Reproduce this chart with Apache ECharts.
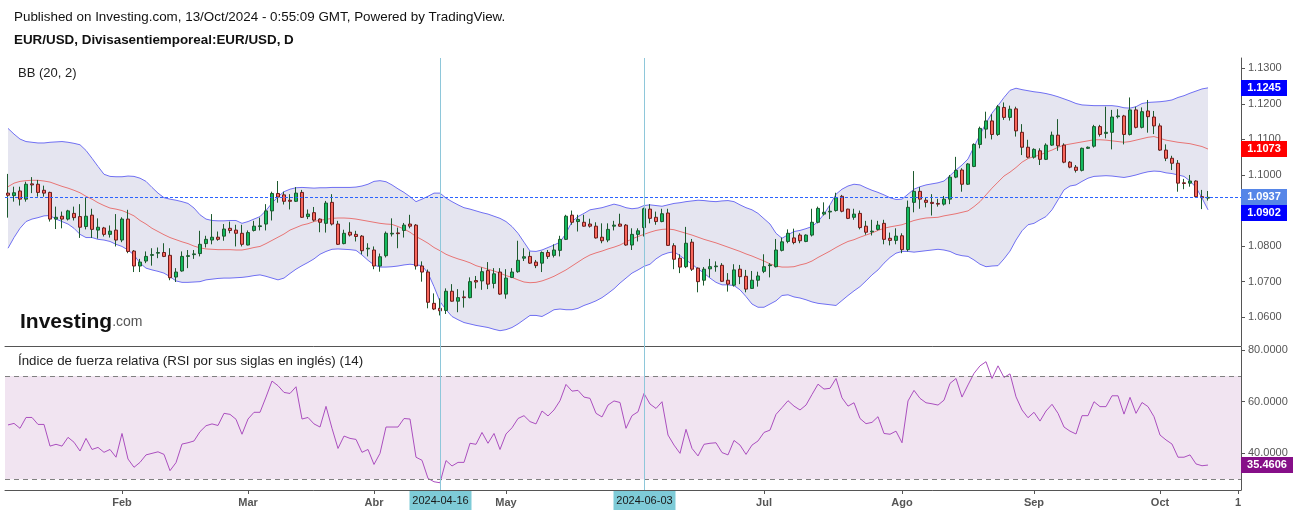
<!DOCTYPE html>
<html><head><meta charset="utf-8">
<script src="https://cdn.jsdelivr.net/npm/echarts@6/dist/echarts.min.js"></script>
<style>html,body{margin:0;padding:0;background:#fff}#c{width:1299px;height:515px}</style>
</head><body><div id="c"></div>
<script>
const dates = [
'2024-01-05','2024-01-08','2024-01-09','2024-01-10','2024-01-11','2024-01-12','2024-01-15','2024-01-16','2024-01-17','2024-01-18',
'2024-01-19','2024-01-22','2024-01-23','2024-01-24','2024-01-25','2024-01-26','2024-01-29','2024-01-30','2024-01-31','2024-02-01',
'2024-02-02','2024-02-05','2024-02-06','2024-02-07','2024-02-08','2024-02-09','2024-02-12','2024-02-13','2024-02-14','2024-02-15',
'2024-02-16','2024-02-19','2024-02-20','2024-02-21','2024-02-22','2024-02-23','2024-02-26','2024-02-27','2024-02-28','2024-02-29',
'2024-03-01','2024-03-04','2024-03-05','2024-03-06','2024-03-07','2024-03-08','2024-03-11','2024-03-12','2024-03-13','2024-03-14',
'2024-03-15','2024-03-18','2024-03-19','2024-03-20','2024-03-21','2024-03-22','2024-03-25','2024-03-26','2024-03-27','2024-03-28',
'2024-03-29','2024-04-01','2024-04-02','2024-04-03','2024-04-04','2024-04-05','2024-04-08','2024-04-09','2024-04-10','2024-04-11',
'2024-04-12','2024-04-15','2024-04-16','2024-04-17','2024-04-18','2024-04-19','2024-04-22','2024-04-23','2024-04-24','2024-04-25',
'2024-04-26','2024-04-29','2024-04-30','2024-05-01','2024-05-02','2024-05-03','2024-05-06','2024-05-07','2024-05-08','2024-05-09',
'2024-05-10','2024-05-13','2024-05-14','2024-05-15','2024-05-16','2024-05-17','2024-05-20','2024-05-21','2024-05-22','2024-05-23',
'2024-05-24','2024-05-27','2024-05-28','2024-05-29','2024-05-30','2024-05-31','2024-06-03','2024-06-04','2024-06-05','2024-06-06',
'2024-06-07','2024-06-10','2024-06-11','2024-06-12','2024-06-13','2024-06-14','2024-06-17','2024-06-18','2024-06-19','2024-06-20',
'2024-06-21','2024-06-24','2024-06-25','2024-06-26','2024-06-27','2024-06-28','2024-07-01','2024-07-02','2024-07-03','2024-07-04',
'2024-07-05','2024-07-08','2024-07-09','2024-07-10','2024-07-11','2024-07-12','2024-07-15','2024-07-16','2024-07-17','2024-07-18',
'2024-07-19','2024-07-22','2024-07-23','2024-07-24','2024-07-25','2024-07-26','2024-07-29','2024-07-30','2024-07-31','2024-08-01',
'2024-08-02','2024-08-05','2024-08-06','2024-08-07','2024-08-08','2024-08-09','2024-08-12','2024-08-13','2024-08-14','2024-08-15',
'2024-08-16','2024-08-19','2024-08-20','2024-08-21','2024-08-22','2024-08-23','2024-08-26','2024-08-27','2024-08-28','2024-08-29',
'2024-08-30','2024-09-02','2024-09-03','2024-09-04','2024-09-05','2024-09-06','2024-09-09','2024-09-10','2024-09-11','2024-09-12',
'2024-09-13','2024-09-16','2024-09-17','2024-09-18','2024-09-19','2024-09-20','2024-09-23','2024-09-24','2024-09-25','2024-09-26',
'2024-09-27','2024-09-30','2024-10-01','2024-10-02','2024-10-03','2024-10-04','2024-10-07','2024-10-08','2024-10-09','2024-10-10',
'2024-10-11'];
const futureDates = ['2024-10-14','2024-10-15','2024-10-16','2024-10-17','2024-10-18'];

const opens = [
1.0949,1.0942,1.0955,1.0932,1.0975,1.0974,1.0957,1.0951,1.0876,1.0884,
1.0876,1.0892,1.0883,1.0855,1.0887,1.0845,1.0851,1.0833,1.0845,1.0817,
1.0876,1.0786,1.0744,1.0758,1.0774,1.0780,1.0782,1.0774,1.0713,1.0730,
1.0771,1.0776,1.0779,1.0807,1.0817,1.0825,1.0828,1.0850,1.0845,1.0836,
1.0803,1.0844,1.0855,1.0862,1.0899,1.0948,1.0944,1.0929,1.0926,1.0951,
1.0883,1.0894,1.0876,1.0864,1.0923,1.0862,1.0807,1.0839,1.0833,1.0828,
1.0792,1.0789,1.0744,1.0773,1.0834,1.0837,1.0844,1.0862,1.0859,1.0744,
1.0727,1.0639,1.0625,1.0619,1.0673,1.0645,1.0657,1.0655,1.0703,1.0702,
1.0731,1.0695,1.0727,1.0665,1.0712,1.0728,1.0766,1.0771,1.0755,1.0752,
1.0782,1.0774,1.0788,1.0819,1.0887,1.0869,1.0867,1.0862,1.0856,1.0825,
1.0817,1.0856,1.0862,1.0859,1.0803,1.0833,1.0852,1.0904,1.0881,1.0869,
1.0893,1.0801,1.0766,1.0742,1.0811,1.0738,1.0704,1.0736,1.0742,1.0746,
1.0704,1.0690,1.0735,1.0715,1.0681,1.0704,1.0729,1.0745,1.0742,1.0788,
1.0813,1.0823,1.0831,1.0813,1.0831,1.0867,1.0890,1.0896,1.0900,1.0940,
1.0904,1.0881,1.0892,1.0856,1.0840,1.0847,1.0864,1.0822,1.0816,1.0829,
1.0790,1.0923,1.0954,1.0929,1.0923,1.0920,1.0918,1.0932,1.0994,1.1014,
1.0974,1.1024,1.1086,1.1129,1.1152,1.1114,1.1190,1.1162,1.1186,1.1120,
1.1078,1.1050,1.1068,1.1044,1.1084,1.1112,1.1084,1.1036,1.1022,1.1013,
1.1075,1.1081,1.1136,1.1117,1.1120,1.1164,1.1166,1.1114,1.1183,1.1134,
1.1180,1.1163,1.1138,1.1070,1.1047,1.1033,1.0978,1.0977,1.0983,1.0939,
1.0935];
const highs = [
1.1003,1.0967,1.0967,1.0981,1.0994,1.0986,1.0970,1.0953,1.0911,1.0897,
1.0902,1.0911,1.0918,1.0936,1.0905,1.0878,1.0854,1.0858,1.0890,1.0881,
1.0902,1.0789,1.0764,1.0785,1.0794,1.0796,1.0808,1.0794,1.0738,1.0785,
1.0789,1.0789,1.0843,1.0829,1.0890,1.0841,1.0862,1.0869,1.0860,1.0860,
1.0844,1.0871,1.0880,1.0918,1.0953,1.0983,1.0953,1.0946,1.0966,1.0958,
1.0903,1.0910,1.0878,1.0927,1.0946,1.0871,1.0846,1.0867,1.0843,1.0831,
1.0808,1.0799,1.0779,1.0841,1.0878,1.0852,1.0865,1.0888,1.0862,1.0757,
1.0734,1.0667,1.0653,1.0681,1.0693,1.0679,1.0675,1.0712,1.0716,1.0740,
1.0755,1.0738,1.0738,1.0735,1.0738,1.0815,1.0794,1.0785,1.0761,1.0785,
1.0789,1.0805,1.0829,1.0888,1.0900,1.0888,1.0888,1.0877,1.0867,1.0864,
1.0864,1.0871,1.0891,1.0862,1.0850,1.0850,1.0908,1.0918,1.0897,1.0905,
1.0905,1.0808,1.0777,1.0854,1.0820,1.0740,1.0741,1.0764,1.0757,1.0752,
1.0724,1.0749,1.0747,1.0733,1.0730,1.0728,1.0777,1.0752,1.0820,1.0824,
1.0847,1.0849,1.0836,1.0833,1.0905,1.0911,1.0923,1.0914,1.0950,1.0944,
1.0905,1.0905,1.0900,1.0871,1.0874,1.0871,1.0874,1.0838,1.0850,1.0836,
1.0928,1.1011,1.0966,1.0936,1.0946,1.0933,1.0941,1.1000,1.1051,1.1019,
1.1033,1.1089,1.1136,1.1178,1.1171,1.1197,1.1204,1.1195,1.1192,1.1143,
1.1099,1.1075,1.1075,1.1089,1.1122,1.1157,1.1089,1.1039,1.1028,1.1077,
1.1080,1.1141,1.1141,1.1192,1.1183,1.1185,1.1169,1.1218,1.1192,1.1190,
1.1211,1.1180,1.1145,1.1086,1.1054,1.1042,1.0989,1.1000,1.0985,1.0958,
1.0955];
const lows = [
1.0880,1.0925,1.0914,1.0925,1.0949,1.0939,1.0939,1.0869,1.0848,1.0850,
1.0872,1.0872,1.0823,1.0847,1.0823,1.0821,1.0827,1.0824,1.0799,1.0811,
1.0780,1.0727,1.0727,1.0752,1.0745,1.0766,1.0769,1.0704,1.0699,1.0728,
1.0738,1.0764,1.0771,1.0796,1.0805,1.0815,1.0815,1.0836,1.0799,1.0799,
1.0802,1.0841,1.0844,1.0844,1.0872,1.0922,1.0917,1.0903,1.0924,1.0879,
1.0876,1.0869,1.0839,1.0838,1.0858,1.0803,1.0805,1.0827,1.0813,1.0777,
1.0771,1.0735,1.0728,1.0768,1.0827,1.0794,1.0824,1.0850,1.0734,1.0700,
1.0625,1.0620,1.0605,1.0609,1.0644,1.0614,1.0627,1.0653,1.0681,1.0677,
1.0679,1.0681,1.0663,1.0652,1.0710,1.0725,1.0758,1.0750,1.0738,1.0727,
1.0764,1.0768,1.0771,1.0817,1.0860,1.0841,1.0855,1.0852,1.0821,1.0808,
1.0811,1.0844,1.0855,1.0801,1.0789,1.0813,1.0827,1.0864,1.0860,1.0867,
1.0801,1.0735,1.0724,1.0738,1.0730,1.0670,1.0689,1.0712,1.0728,1.0700,
1.0672,1.0686,1.0693,1.0670,1.0680,1.0686,1.0724,1.0712,1.0740,1.0785,
1.0808,1.0805,1.0808,1.0811,1.0827,1.0864,1.0886,1.0876,1.0897,1.0895,
1.0876,1.0874,1.0847,1.0832,1.0830,1.0844,1.0805,1.0802,1.0805,1.0780,
1.0785,1.0895,1.0905,1.0909,1.0886,1.0911,1.0914,1.0918,1.0991,1.0953,
1.0972,1.1022,1.1075,1.1103,1.1100,1.1110,1.1155,1.1153,1.1108,1.1056,
1.1047,1.1046,1.1028,1.1042,1.1082,1.1068,1.1033,1.1019,1.1007,1.1010,
1.1073,1.1077,1.1108,1.1103,1.1072,1.1159,1.1086,1.1111,1.1131,1.1131,
1.1119,1.1115,1.1068,1.1039,1.1014,1.0953,1.0960,1.0967,1.0937,1.0904,
1.0928];
const closes = [
1.0943,1.0950,1.0932,1.0974,1.0972,1.0951,1.0949,1.0876,1.0881,1.0876,
1.0899,1.0880,1.0853,1.0884,1.0847,1.0853,1.0833,1.0842,1.0817,1.0876,
1.0785,1.0744,1.0755,1.0771,1.0776,1.0782,1.0771,1.0711,1.0727,1.0771,
1.0773,1.0778,1.0805,1.0819,1.0825,1.0819,1.0848,1.0844,1.0836,1.0805,
1.0838,1.0856,1.0857,1.0899,1.0948,1.0938,1.0926,1.0926,1.0949,1.0881,
1.0890,1.0873,1.0867,1.0921,1.0862,1.0805,1.0836,1.0831,1.0827,1.0787,
1.0794,1.0744,1.0770,1.0836,1.0836,1.0835,1.0859,1.0856,1.0744,1.0727,
1.0642,1.0623,1.0618,1.0673,1.0645,1.0655,1.0655,1.0700,1.0699,1.0728,
1.0693,1.0722,1.0665,1.0710,1.0727,1.0760,1.0770,1.0752,1.0745,1.0782,
1.0771,1.0789,1.0819,1.0884,1.0867,1.0875,1.0856,1.0856,1.0823,1.0815,
1.0847,1.0859,1.0856,1.0803,1.0833,1.0843,1.0905,1.0878,1.0869,1.0891,
1.0802,1.0763,1.0741,1.0808,1.0735,1.0700,1.0735,1.0742,1.0744,1.0701,
1.0693,1.0733,1.0714,1.0679,1.0704,1.0716,1.0742,1.0747,1.0789,1.0812,
1.0836,1.0810,1.0815,1.0831,1.0867,1.0906,1.0895,1.0898,1.0936,1.0898,
1.0878,1.0890,1.0852,1.0839,1.0842,1.0859,1.0819,1.0816,1.0828,1.0790,
1.0909,1.0954,1.0932,1.0923,1.0920,1.0918,1.0932,1.0994,1.1013,1.0974,
1.1031,1.1086,1.1131,1.1152,1.1114,1.1192,1.1162,1.1185,1.1124,1.1078,
1.1050,1.1072,1.1044,1.1084,1.1112,1.1082,1.1036,1.1022,1.1013,1.1075,
1.1078,1.1136,1.1114,1.1120,1.1163,1.1166,1.1114,1.1183,1.1134,1.1178,
1.1164,1.1138,1.1070,1.1047,1.1033,1.0977,1.0976,1.0983,1.0939,1.0936,
1.0937];

const bbUpper = [
1.1131,1.1115,1.1101,1.1094,1.1092,1.1090,1.1090,1.1092,1.1093,1.1094,
1.1092,1.1089,1.1085,1.1069,1.1047,1.1024,1.1002,1.0996,1.0995,1.0995,
1.0997,1.0996,1.0991,1.0982,1.0965,1.0949,1.0936,1.0932,1.0929,1.0925,
1.0920,1.0907,1.0888,1.0876,1.0872,1.0871,1.0871,1.0872,1.0872,1.0864,
1.0869,1.0876,1.0883,1.0900,1.0921,1.0939,1.0953,1.0960,1.0964,1.0965,
1.0964,1.0963,1.0964,1.0964,1.0965,1.0965,1.0965,1.0965,1.0966,1.0969,
1.0974,1.0982,1.0984,1.0981,1.0972,1.0961,1.0951,1.0939,1.0925,1.0932,
1.0940,1.0949,1.0949,1.0935,1.0925,1.0916,1.0908,1.0904,1.0899,1.0894,
1.0890,1.0884,1.0878,1.0869,1.0855,1.0836,1.0811,1.0786,1.0785,1.0789,
1.0796,1.0803,1.0811,1.0836,1.0869,1.0883,1.0892,1.0902,1.0905,1.0908,
1.0913,1.0918,1.0914,1.0908,1.0905,1.0907,1.0914,1.0916,1.0914,1.0912,
1.0916,1.0920,1.0922,1.0925,1.0927,1.0929,1.0928,1.0926,1.0925,1.0927,
1.0928,1.0925,1.0916,1.0908,1.0902,1.0892,1.0877,1.0862,1.0836,1.0822,
1.0832,1.0841,1.0844,1.0849,1.0855,1.0869,1.0890,1.0916,1.0946,1.0960,
1.0969,1.0974,1.0972,1.0964,1.0957,1.0951,1.0944,1.0936,1.0931,1.0932,
1.0946,1.0960,1.0967,1.0972,1.0975,1.0978,1.0983,1.0998,1.1014,1.1028,
1.1045,1.1079,1.1113,1.1146,1.1174,1.1195,1.1218,1.1238,1.1244,1.1240,
1.1237,1.1234,1.1232,1.1229,1.1225,1.1220,1.1214,1.1208,1.1201,1.1197,
1.1196,1.1195,1.1195,1.1195,1.1195,1.1193,1.1189,1.1188,1.1192,1.1201,
1.1204,1.1205,1.1206,1.1208,1.1211,1.1218,1.1223,1.1230,1.1236,1.1242,
1.1245];
const bbMiddle = [
1.0967,1.0977,1.0982,1.0984,1.0985,1.0985,1.0983,1.0980,1.0974,1.0968,
1.0963,1.0957,1.0950,1.0940,1.0932,1.0922,1.0914,1.0907,1.0904,1.0900,
1.0893,1.0885,1.0872,1.0862,1.0850,1.0841,1.0832,1.0824,1.0818,1.0812,
1.0807,1.0800,1.0795,1.0792,1.0791,1.0790,1.0790,1.0790,1.0789,1.0789,
1.0792,1.0796,1.0799,1.0807,1.0816,1.0825,1.0834,1.0845,1.0852,1.0859,
1.0863,1.0869,1.0873,1.0875,1.0878,1.0879,1.0879,1.0878,1.0876,1.0873,
1.0870,1.0867,1.0864,1.0862,1.0861,1.0855,1.0848,1.0839,1.0827,1.0818,
1.0808,1.0796,1.0787,1.0777,1.0770,1.0764,1.0759,1.0753,1.0745,1.0740,
1.0735,1.0730,1.0724,1.0717,1.0712,1.0705,1.0699,1.0697,1.0698,1.0702,
1.0708,1.0715,1.0724,1.0733,1.0744,1.0755,1.0766,1.0775,1.0781,1.0786,
1.0792,1.0797,1.0803,1.0812,1.0820,1.0827,1.0833,1.0839,1.0844,1.0847,
1.0848,1.0846,1.0841,1.0836,1.0831,1.0825,1.0819,1.0814,1.0809,1.0803,
1.0797,1.0791,1.0785,1.0778,1.0772,1.0765,1.0758,1.0750,1.0744,1.0741,
1.0741,1.0742,1.0747,1.0751,1.0758,1.0768,1.0777,1.0786,1.0796,1.0805,
1.0813,1.0818,1.0825,1.0831,1.0837,1.0844,1.0850,1.0854,1.0857,1.0860,
1.0866,1.0872,1.0876,1.0879,1.0880,1.0881,1.0885,1.0888,1.0891,1.0895,
1.0899,1.0911,1.0925,1.0944,1.0963,1.0980,1.0997,1.1008,1.1021,1.1036,
1.1046,1.1052,1.1056,1.1064,1.1070,1.1078,1.1084,1.1087,1.1090,1.1093,
1.1096,1.1099,1.1099,1.1098,1.1096,1.1094,1.1092,1.1094,1.1098,1.1102,
1.1106,1.1108,1.1103,1.1098,1.1095,1.1092,1.1090,1.1088,1.1084,1.1080,
1.1073];
const bbLower = [
1.0794,1.0824,1.0850,1.0869,1.0876,1.0880,1.0885,1.0886,1.0876,1.0869,
1.0862,1.0850,1.0833,1.0824,1.0824,1.0819,1.0817,1.0813,1.0805,1.0799,
1.0789,1.0775,1.0752,1.0738,1.0733,1.0729,1.0724,1.0714,1.0702,1.0698,
1.0698,1.0699,1.0700,1.0705,1.0707,1.0709,1.0710,1.0710,1.0711,1.0712,
1.0714,1.0717,1.0719,1.0715,1.0710,1.0705,1.0710,1.0723,1.0735,1.0745,
1.0754,1.0764,1.0777,1.0785,1.0791,1.0792,1.0791,1.0790,1.0788,1.0775,
1.0760,1.0747,1.0741,1.0741,1.0742,1.0744,1.0747,1.0749,1.0747,1.0745,
1.0724,1.0686,1.0644,1.0621,1.0602,1.0593,1.0585,1.0581,1.0577,1.0574,
1.0571,1.0566,1.0562,1.0565,1.0571,1.0581,1.0593,1.0605,1.0605,1.0602,
1.0611,1.0621,1.0623,1.0621,1.0621,1.0625,1.0633,1.0639,1.0646,1.0655,
1.0667,1.0680,1.0696,1.0710,1.0724,1.0733,1.0743,1.0749,1.0764,1.0775,
1.0781,1.0784,1.0773,1.0761,1.0749,1.0736,1.0724,1.0710,1.0698,1.0691,
1.0691,1.0689,1.0677,1.0658,1.0637,1.0628,1.0628,1.0637,1.0646,1.0661,
1.0663,1.0657,1.0654,1.0649,1.0643,1.0639,1.0637,1.0635,1.0633,1.0647,
1.0661,1.0674,1.0686,1.0702,1.0719,1.0733,1.0752,1.0768,1.0780,1.0785,
1.0785,1.0783,1.0785,1.0787,1.0789,1.0791,1.0789,1.0785,1.0777,1.0773,
1.0771,1.0761,1.0749,1.0742,1.0744,1.0745,1.0764,1.0786,1.0817,1.0843,
1.0860,1.0864,1.0874,1.0883,1.0902,1.0930,1.0958,1.0969,1.0972,1.0982,
1.0991,1.0996,1.0997,1.0998,1.0997,1.0995,1.0993,1.0996,1.1000,1.1005,
1.1009,1.1011,1.1010,1.1006,1.1004,1.1000,1.0996,1.0983,1.0965,1.0935,
1.0902];

const rsi = [
51.0,51.6,49.7,53.9,53.9,51.2,51.2,42.8,43.5,42.8,
46.2,44.3,40.9,45.8,41.5,42.3,40.4,41.5,38.5,47.7,
37.8,34.6,36.5,39.4,40.0,40.6,39.6,33.3,36.4,43.6,
44.1,44.8,48.4,50.7,51.4,50.8,55.5,55.1,53.2,47.4,
53.3,55.9,55.9,61.8,68.0,66.2,63.6,63.2,65.8,53.3,
53.9,51.4,50.2,58.2,49.7,41.9,46.7,45.8,45.4,40.4,
41.5,35.7,40.0,50.2,50.2,50.2,53.5,53.3,38.5,37.3,
30.3,29.0,28.6,37.2,35.1,36.5,36.5,43.9,43.5,48.1,
43.9,47.7,41.5,47.5,49.9,53.5,54.6,52.3,51.4,56.4,
54.5,56.8,60.4,66.7,64.1,64.4,61.8,61.3,55.5,54.1,
58.7,60.3,59.7,49.7,54.6,56.1,63.2,59.1,57.4,60.0,
47.1,43.2,40.0,49.3,41.9,39.0,43.5,43.9,44.1,40.3,
39.4,45.0,43.2,39.6,43.2,44.8,48.1,49.0,55.1,57.7,
60.4,58.3,56.8,58.7,62.8,66.8,64.9,65.2,69.0,61.5,
58.3,59.6,53.5,51.5,52.0,54.2,47.7,47.4,48.6,44.1,
60.3,64.4,61.3,59.6,59.2,58.7,60.6,67.1,69.0,61.8,
66.5,71.0,73.9,75.5,69.0,73.9,69.4,70.8,61.9,56.8,
53.8,55.9,52.5,56.4,59.0,55.5,50.2,48.6,47.5,54.6,
54.6,60.0,58.1,58.1,62.3,62.3,55.2,61.7,55.5,59.7,
58.1,54.2,47.1,45.2,43.6,38.5,38.5,39.4,35.9,35.2,
35.4606];

const priceTicks = [1.06, 1.07, 1.08, 1.09, 1.10, 1.11, 1.12, 1.13];
const rsiTicks = [40, 60, 80];
const rsiBand = [30, 70];
const monthTickDates = ['2024-02-01','2024-03-01','2024-04-01','2024-05-01','2024-07-01','2024-08-01','2024-09-02','2024-10-01','2024-10-18'];
const monthTickLabels = ['Feb','Mar','Abr','May','Jul','Ago','Sep','Oct','1'];
const highlightDates = ['2024-04-16','2024-06-03'];

const FONT = '"Liberation Sans", Arial, sans-serif';
const cats = dates.concat(futureDates);
const labelOf = {};
monthTickDates.forEach((d, i) => { labelOf[d] = monthTickLabels[i]; });

const wickData = dates.map((d, i) => [opens[i], closes[i], lows[i], highs[i]]);
const bodyData = dates.map((d, i) => [opens[i], closes[i], Math.min(opens[i], closes[i]), Math.max(opens[i], closes[i])]);
const bandWidth = bbUpper.map((u, i) => +(u - bbLower[i]).toFixed(4));
const lastClose = closes[closes.length - 1];

const chart = echarts.init(document.getElementById('c'), null, {renderer: 'canvas'});
const option = {
  animation: false,
  grid: [
    {left: 5, right: 58, top: 58, height: 288},
    {left: 5, right: 58, top: 347, height: 143}
  ],
  xAxis: [
    {type: 'category', gridIndex: 0, data: cats, boundaryGap: true,
     axisLine: {show: true, lineStyle: {color: '#555', width: 1}},
     axisTick: {show: false}, axisLabel: {show: false}, splitLine: {show: false}},
    {type: 'category', gridIndex: 1, data: cats, boundaryGap: true,
     axisLine: {show: true, lineStyle: {color: '#555', width: 1}},
     axisTick: {show: true, alignWithLabel: true, length: 4, lineStyle: {color: '#555'},
                interval: (i, v) => labelOf[v] !== undefined},
     axisLabel: {show: true, interval: (i, v) => labelOf[v] !== undefined,
                 formatter: v => labelOf[v] || '', color: '#555', fontSize: 11,
                 fontWeight: 'bold', fontFamily: FONT, margin: 7},
     splitLine: {show: false}}
  ],
  yAxis: [
    {type: 'value', gridIndex: 0, position: 'right', min: 1.0519, max: 1.1329, scale: true,
     splitLine: {show: false},
     axisLine: {show: true, lineStyle: {color: '#555'}},
     axisTick: {show: true, length: 4, customValues: priceTicks, lineStyle: {color: '#555'}},
     axisLabel: {customValues: priceTicks, formatter: v => v.toFixed(4), color: '#555',
                 fontSize: 11, fontFamily: FONT, margin: 7}},
    {type: 'value', gridIndex: 1, position: 'right', min: 25.8, max: 81.2,
     splitLine: {show: false},
     axisLine: {show: true, lineStyle: {color: '#555'}},
     axisTick: {show: true, length: 4, customValues: rsiTicks, lineStyle: {color: '#555'}},
     axisLabel: {customValues: rsiTicks, formatter: v => v.toFixed(4), color: '#555',
                 fontSize: 11, fontFamily: FONT, margin: 7}}
  ],
  series: [
    {name: 'bbLower', type: 'line', xAxisIndex: 0, yAxisIndex: 0, data: bbLower, stack: 'bb',
     symbol: 'none', lineStyle: {color: '#6f6ff2', width: 1}, z: 3},
    {name: 'bbFill', type: 'line', xAxisIndex: 0, yAxisIndex: 0, data: bandWidth, stack: 'bb',
     symbol: 'none', lineStyle: {width: 0, opacity: 0}, areaStyle: {color: '#e5e5f0', opacity: 1}, z: 1},
    {name: 'bbUpper', type: 'line', xAxisIndex: 0, yAxisIndex: 0, data: bbUpper,
     symbol: 'none', lineStyle: {color: '#6f6ff2', width: 1}, z: 3},
    {name: 'bbMiddle', type: 'line', xAxisIndex: 0, yAxisIndex: 0, data: bbMiddle,
     symbol: 'none', lineStyle: {color: '#e87575', width: 1}, z: 3},
    {name: 'wicks', type: 'candlestick', xAxisIndex: 0, yAxisIndex: 0, data: wickData, barWidth: 1,
     itemStyle: {color: '#1d5a2e', color0: '#1d5a2e', borderColor: '#1d5a2e', borderColor0: '#1d5a2e', borderWidth: 1}, z: 4},
    {name: 'bodies', type: 'candlestick', xAxisIndex: 0, yAxisIndex: 0, data: bodyData, barWidth: 4,
     itemStyle: {color: '#14b95e', color0: '#f8675b', borderColor: '#1d5a2e', borderColor0: '#6e1c1c', borderWidth: 1}, z: 5},
    {name: 'rsi', type: 'line', xAxisIndex: 1, yAxisIndex: 1, data: rsi, symbol: 'none',
     lineStyle: {color: '#ab4fbf', width: 1}, z: 4,
     markArea: {silent: true, itemStyle: {color: '#f1e4f1'},
                data: [[{yAxis: rsiBand[0]}, {yAxis: rsiBand[1]}]]},
     markLine: {silent: true, symbol: ['none', 'none'], label: {show: false},
                lineStyle: {color: '#808080', type: [5, 4], width: 1},
                data: [{yAxis: rsiBand[1]}, {yAxis: rsiBand[0]}]}}
  ]
};
chart.setOption(option);

// overlays positioned through the chart's scales
const g = [];
g.push({type: 'text', x: 14, y: 17, z: 100, style: {text: 'Published on Investing.com, 13/Oct/2024 - 0:55:09 GMT, Powered by TradingView.', font: '13.4px ' + FONT, fill: '#111', textVerticalAlign: 'middle'}});
g.push({type: 'text', x: 14, y: 40, z: 100, style: {text: 'EUR/USD, Divisasentiemporeal:EUR/USD, D', font: 'bold 13.4px ' + FONT, fill: '#111', textVerticalAlign: 'middle'}});
g.push({type: 'text', x: 18, y: 73, z: 100, style: {text: 'BB (20, 2)', font: '13px ' + FONT, fill: '#222', textVerticalAlign: 'middle'}});
g.push({type: 'text', x: 18, y: 361, z: 100, style: {text: 'Índice de fuerza relativa (RSI por sus siglas en inglés) (14)', font: '13.3px ' + FONT, fill: '#222', textVerticalAlign: 'middle'}});
g.push({type: 'text', x: 20, y: 333, z: 100, style: {
  text: '{a|Investing}{b|.com}', textVerticalAlign: 'bottom',
  rich: {a: {font: 'bold 21px ' + FONT, fill: '#111'}, b: {font: '14px ' + FONT, fill: '#555', padding: [0, 0, 1, 0]}}}});

// last-price dotted line
const lastY = Math.round(chart.convertToPixel({yAxisIndex: 0}, lastClose)) + 0.5;
g.push({type: 'line', z: 7, shape: {x1: 5, y1: lastY, x2: 1241, y2: lastY},
        style: {stroke: '#2962ff', lineWidth: 1, lineDash: [3, 2]}});

highlightDates.forEach(d => {
  const x = Math.round(chart.convertToPixel({xAxisIndex: 1}, d)) + 0.5;
  g.push({type: 'line', z: 6, shape: {x1: x, y1: 58, x2: x, y2: 490}, style: {stroke: '#8ec7da', lineWidth: 1}});
  g.push({type: 'rect', z: 100, shape: {x: x - 31, y: 491, width: 62, height: 19}, style: {fill: '#7ecbd7'}});
  g.push({type: 'text', z: 101, x: x, y: 501, style: {text: d, font: '11px ' + FONT, fill: '#1a1a1a', textAlign: 'center', textVerticalAlign: 'middle'}});
});

const last = a => a[a.length - 1];
const priceBoxes = [
  {v: last(bbUpper), bg: '#0000ff'},
  {v: last(bbMiddle), bg: '#ff0000'},
  {v: lastClose, bg: '#5686e8'},
  {v: last(bbLower), bg: '#0000ff'}
];
let prevY = -100;
priceBoxes.forEach(b => {
  let y = chart.convertToPixel({yAxisIndex: 0}, b.v);
  if (y < prevY + 16) y = prevY + 16;
  prevY = y;
  g.push({type: 'rect', z: 100, shape: {x: 1241, y: Math.round(y - 8), width: 46, height: 16}, style: {fill: b.bg}});
  g.push({type: 'text', z: 101, x: 1264, y: Math.round(y), style: {text: b.v.toFixed(4), font: 'bold 11px ' + FONT, fill: '#fff', textAlign: 'center', textVerticalAlign: 'middle'}});
});
const ry = chart.convertToPixel({yAxisIndex: 1}, last(rsi));
g.push({type: 'rect', z: 100, shape: {x: 1241, y: Math.round(ry - 8), width: 52, height: 16}, style: {fill: '#860f88'}});
g.push({type: 'text', z: 101, x: 1267, y: Math.round(ry), style: {text: last(rsi).toFixed(4), font: 'bold 11px ' + FONT, fill: '#fff', textAlign: 'center', textVerticalAlign: 'middle'}});

chart.setOption({graphic: g});
</script>
</body></html>
